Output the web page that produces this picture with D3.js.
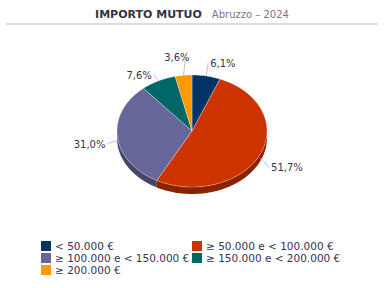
<!DOCTYPE html>
<html>
<head>
<meta charset="utf-8">
<script src="https://cdn.jsdelivr.net/npm/d3@7"></script>
<style>
  body { margin: 0; background: #fff; }
  text { font-family: "DejaVu Sans", Verdana, sans-serif; }
</style>
</head>
<body>
<div class="chart"></div>
<script>
// data
const categories = ['< 50.000 €', '≥ 50.000 e < 100.000 €', '≥ 100.000 e < 150.000 €', '≥ 150.000 e < 200.000 €', '≥ 200.000 €'];
const shares = [6.1, 51.7, 31.0, 7.6, 3.6];
const colors = ['#003366', '#cc3300', '#666699', '#006666', '#ff9900'];
const chartTitle = 'IMPORTO MUTUO';
const chartSubtitle = 'Abruzzo – 2024';

const width = 384, height = 288;
const cx = 192, cy = 131, rx = 75, ry = 56, depth = 7;

const svg = d3.select('.chart').append('svg')
  .attr('width', width)
  .attr('height', height);

// title
const title = svg.append('text')
  .attr('x', width / 2)
  .attr('y', 17.5)
  .attr('text-anchor', 'middle');
title.append('tspan')
  .attr('font-weight', 'bold')
  .attr('font-size', 11)
  .attr('fill', '#333344')
  .text(chartTitle);
title.append('tspan')
  .attr('dx', 10)
  .attr('font-size', 10)
  .attr('fill', '#77778a')
  .text(chartSubtitle);

svg.append('line')
  .attr('x1', 6).attr('x2', 378)
  .attr('y1', 24).attr('y2', 24)
  .attr('stroke', '#dcdce0')
  .attr('stroke-width', 2);

// angles: 0 at 12 o'clock, clockwise
const pie = d3.pie().sort(null).value(d => d)(shares);

const px = a => cx + rx * Math.sin(a);
const py = a => cy - ry * Math.cos(a);

// top face of a slice as path on the ellipse
const topPath = (a0, a1) => {
  const n = Math.max(2, Math.ceil((a1 - a0) / 0.03));
  const pts = d3.range(n + 1).map(i => a0 + (a1 - a0) * i / n);
  return 'M' + cx + ',' + cy + pts.map(a => 'L' + px(a) + ',' + py(a)).join('') + 'Z';
};

// side wall for the visible (front) part of a slice
const sidePath = (a0, a1) => {
  const s = Math.max(a0, Math.PI / 2), e = Math.min(a1, Math.PI * 1.5);
  if (e <= s) return null;
  const n = Math.max(2, Math.ceil((e - s) / 0.03));
  const pts = d3.range(n + 1).map(i => s + (e - s) * i / n);
  const upper = pts.map(a => [px(a), py(a)]);
  const lower = pts.slice().reverse().map(a => [px(a), py(a) + depth]);
  return 'M' + upper.concat(lower).map(p => p.join(',')).join('L') + 'Z';
};

const sides = svg.append('g');
pie.forEach((d, i) => {
  const p = sidePath(d.startAngle, d.endAngle);
  if (p) {
    sides.append('path')
      .attr('d', p)
      .attr('fill', d3.color(colors[i]).darker(1.1));
  }
});

svg.append('g').selectAll('path')
  .data(pie)
  .join('path')
  .attr('d', d => topPath(d.startAngle, d.endAngle))
  .attr('fill', (d, i) => colors[i])
  .attr('stroke', '#ffffff')
  .attr('stroke-opacity', 0.5)
  .attr('stroke-width', 0.6);

// labels: natural spot on a wider ellipse, then spread apart if they collide
const fmt = v => d3.format('.1f')(v).replace('.', ',') + '%';
const lab = pie.map((d, i) => {
  const a = (d.startAngle + d.endAngle) / 2;
  return {
    a: a,
    v: d.data,
    right: Math.sin(a) >= 0,
    x: cx + 85 * Math.sin(a),
    y: cy - 74 * Math.cos(a) + 8.7   // baseline
  };
});
[true, false].forEach(side => {
  const s = lab.filter(l => l.right === side).sort((p, q) => p.y - q.y);
  for (let k = 1; k < s.length; k++) {
    const gap = s[k].y - s[k - 1].y;
    if (gap < 18) {
      const mid = (s[k].y + s[k - 1].y) / 2;
      s[k - 1].y = mid - 9;
      s[k].y = mid + 9;
      // label pushed up near the top: connector goes straight up
      s[k - 1].x = px(s[k - 1].a) + 8;
    }
  }
});

const labels = svg.append('g');
lab.forEach(l => {
  const x0 = px(l.a), y0 = py(l.a) + (Math.cos(l.a) < 0 ? depth / 2 : 0);
  const x1 = l.right ? l.x : Math.min(l.x, x0 + 2);
  labels.append('line')
    .attr('x1', x0).attr('y1', y0)
    .attr('x2', x1).attr('y2', l.y - 4)
    .attr('stroke', '#b8c4d8')
    .attr('stroke-width', 1);
  labels.append('text')
    .attr('x', l.x + (l.right ? 2 : -2))
    .attr('y', l.y)
    .attr('text-anchor', l.right ? 'start' : 'end')
    .attr('font-size', 10)
    .attr('fill', '#333355')
    .text(fmt(l.v));
});

// legend
const legend = svg.append('g');
categories.forEach((c, i) => {
  const col = i % 2, row = Math.floor(i / 2);
  const g = legend.append('g')
    .attr('transform', 'translate(' + (41 + col * 151) + ',' + (241 + row * 12) + ')');
  g.append('rect')
    .attr('width', 10).attr('height', 10)
    .attr('fill', colors[i]);
  g.append('text')
    .attr('x', 14).attr('y', 9)
    .attr('font-size', 10.5)
    .attr('fill', '#333355')
    .text(c);
});
</script>
</body>
</html>
